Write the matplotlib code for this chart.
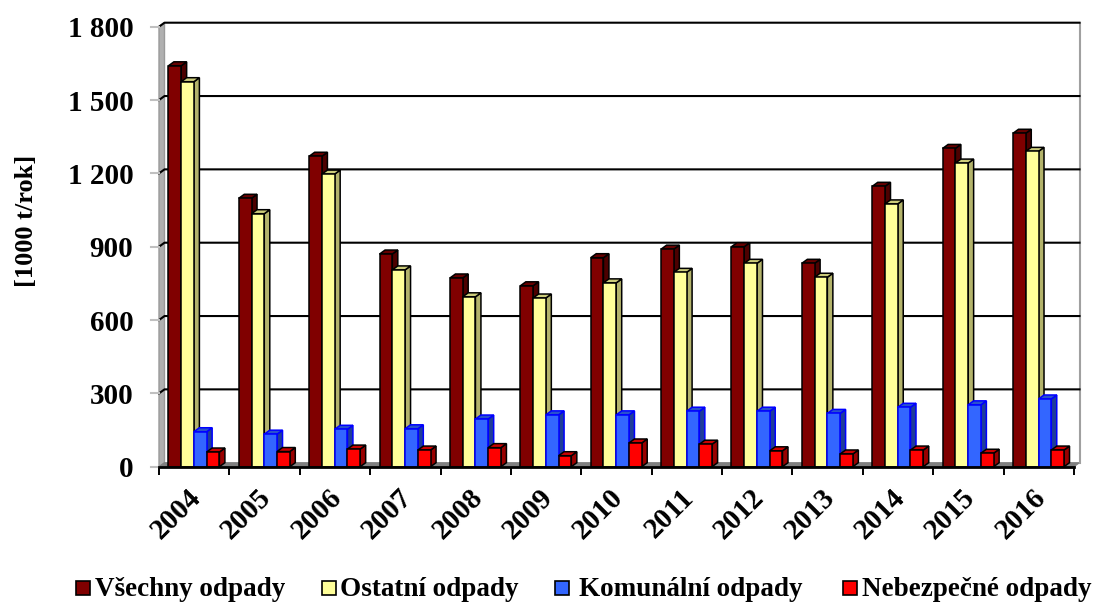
import matplotlib
matplotlib.use("Agg")
import matplotlib.pyplot as plt
from matplotlib.patches import Polygon, Rectangle

years = ['2004','2005','2006','2007','2008','2009','2010','2011','2012','2013','2014','2015','2016']
vsechny = [1640,1098,1270,870,772,740,855,890,900,832,1147,1302,1364]
ostatni = [1575,1035,1197,805,695,690,752,795,832,775,1075,1242,1290]
komunalni = [143,133,153,155,195,212,212,227,227,218,243,253,277]
nebezpecne = [60,62,72,68,78,45,97,92,65,52,68,55,68]
series_names = ['Všechny odpady','Ostatní odpady','Komunální odpady','Nebezpečné odpady']
series_vals = [vsechny, ostatni, komunalni, nebezpecne]
face = ['#800000','#FFFF99','#3366FF','#FF0000']
edge = ['#000000','#000000','#0000FF','#000000']
top_c = ['#660000','#CCCC7A','#2952CC','#CC0000']
side_c = ['#4D0000','#B3B36B','#1F3D99','#990000']
yticks = [0,300,600,900,1200,1500,1800]
ylabels = ['0','300','600','900','1 200','1 500','1 800']

W,H = 1094,602
fig = plt.figure(figsize=(W/100,H/100),dpi=100,facecolor='white')
L,R,B,T = 159,1074,466.7,26.7
ax = fig.add_axes([L/W,1-B/H,(R-L)/W,(B-T)/H])
ax.set_xlim(0,13); ax.set_ylim(0,1800)
ax.patch.set_visible(False)
for s in ax.spines.values(): s.set_visible(False)
sx = 13/(R-L); sy = 1800/(B-T)
dx,dy = 5.5*sx, 4*sy     # depth offset
SER = 'Liberation Serif'

# walls and floor
ax.add_patch(Polygon([(0,0),(dx,dy),(dx,1800+dy),(0,1800)],fc='#B0B0B0',ec='#9A9A9A',lw=1,zorder=1,clip_on=False))
ax.add_patch(Polygon([(0,0),(13,0),(13+dx,dy),(dx,dy)],fc='#808080',ec='#808080',lw=0.8,zorder=1,clip_on=False))
ax.plot([13+dx,13+dx],[dy,1800+dy],color='#A0A0A0',lw=1.5,zorder=1,clip_on=False)
for v in yticks[1:]:
    ax.plot([0,dx,13+dx],[v,v+dy,v+dy],color='black',lw=1.5,zorder=2,clip_on=False)
    ax.plot([-8*sx,0],[v,v],color='#C0C0C0',lw=1.5,zorder=2,clip_on=False)
ax.plot([-8*sx,0],[0,0],color='#C0C0C0',lw=1.5,zorder=2,clip_on=False)

# bars
bw = 12.75*sx
start = 9.4*sx
z = 3
for i in range(len(years)):
    for j,vals in enumerate(series_vals):
        x0 = i+start+j*bw; v = vals[i]; x1 = x0+bw
        ec = edge[j]; lw = 1.1
        ax.add_patch(Polygon([(x1,0),(x1+dx,dy),(x1+dx,v+dy),(x1,v)],fc=side_c[j],ec=ec,lw=lw,zorder=z,clip_on=False))
        ax.add_patch(Polygon([(x0,v),(x1,v),(x1+dx,v+dy),(x0+dx,v+dy)],fc=top_c[j],ec=ec,lw=lw,zorder=z,clip_on=False))
        ax.bar(x0,v,width=bw,align='edge',color=face[j],edgecolor=ec,linewidth=lw,zorder=z+0.5,clip_on=False)
        z += 1

# axes lines and ticks
ax.plot([0,13],[0,0],color='black',lw=2,zorder=z+1,clip_on=False)
ax.set_xticks(range(14)); ax.set_xticklabels([])
ax.tick_params(axis='x',length=5.5,width=1.4,color='black',pad=0)
ax.set_yticks(yticks); ax.set_yticklabels(ylabels,fontfamily=SER,fontweight='bold',fontsize=21)
ax.tick_params(axis='y',length=0,pad=18.5)
for i,y in enumerate(years):
    ax.annotate(y,xy=(i+0.5,0),xytext=(-5,-12.5),textcoords='offset points',rotation=45,ha='right',va='top',
                rotation_mode='anchor',fontfamily=SER,fontweight='bold',fontsize=21,annotation_clip=False)
fig.text(27/W,1-221/H,'[1000 t/rok]',rotation=90,ha='center',va='center',fontfamily=SER,fontweight='bold',fontsize=19)

# legend
lx = [76,322,555,843]
tx = [95,340,579,862]
for n,c,a,b in zip(series_names,face,lx,tx):
    fig.add_artist(Rectangle((a/W,1-595/H),14/W,14/H,transform=fig.transFigure,fc=c,ec='black',lw=1.2))
    fig.text(b/W,1-590/H,n,ha='left',va='center',fontfamily=SER,fontweight='bold',fontsize=19.5)
fig.savefig('out.png',dpi=100)
